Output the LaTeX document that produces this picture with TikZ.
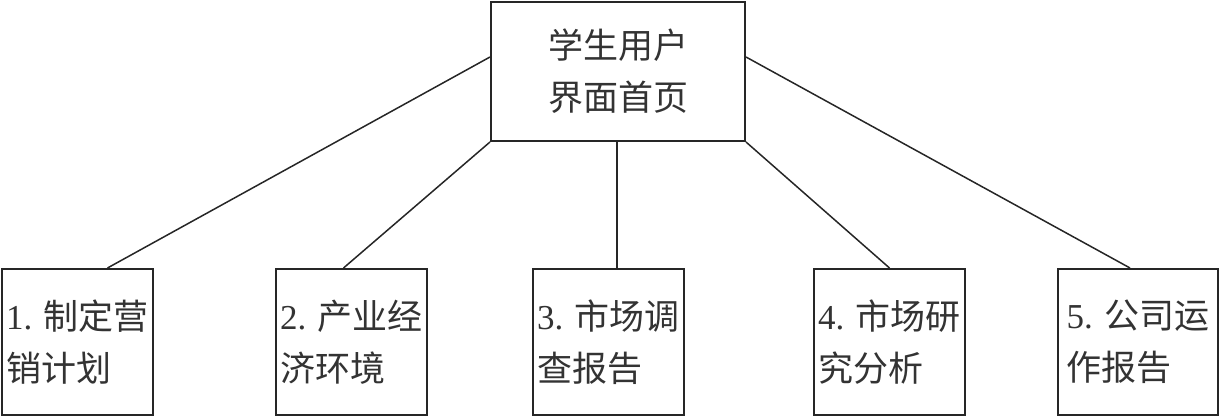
\documentclass[tikz,border=0pt]{standalone}
\usepackage{fontspec}
\setmainfont{Liberation Serif}
\newfontfamily\cjk{Noto Sans CJK SC}
\usetikzlibrary{calc}
\begin{document}
\begin{tikzpicture}[x=1pt,y=-1pt,
  box/.style={draw=black!85,line width=2pt,inner sep=0pt,align=left,
    font=\fontsize{35}{52}\selectfont,text=black!80},
  conn/.style={draw=black!85,line width=1.5pt}]
\useasboundingbox (0,0) rectangle (1221,417);
\node[box,align=center,minimum width=254pt,minimum height=139pt] (top) at (618,71.5) {\cjk 学生用户\\\cjk 界面首页};
\node[box,minimum width=151pt,minimum height=146pt] (b1) at (77.5,342) {1. {\cjk 制定营}\\{\cjk 销计划}};
\node[box,minimum width=151pt,minimum height=146pt] (b2) at (351.5,342) {2. {\cjk 产业经}\\{\cjk 济环境}};
\node[box,minimum width=151pt,minimum height=146pt] (b3) at (608.5,342) {3. {\cjk 市场调}\\{\cjk 查报告}};
\node[box,minimum width=151pt,minimum height=146pt] (b4) at (889.5,342) {4. {\cjk 市场研}\\{\cjk 究分析}};
\node[box,minimum width=160pt,minimum height=146pt] (b5) at (1138,342) {5. {\cjk 公司运}\\{\cjk 作报告}};
\draw[conn] ($(top.north west)+(0,56)$) -- ($(b1.north)+(30,0)$);
\draw[conn] (top.south west) -- ($(b2.north)+(-8,0)$);
\draw[conn] ($(top.south)+(-1,0)$) -- ($(b3.north)+(8.5,0)$);
\draw[conn] (top.south east) -- (b4.north);
\draw[conn] ($(top.north east)+(0,56)$) -- ($(b5.north)+(-8,0)$);
\end{tikzpicture}
\end{document}
